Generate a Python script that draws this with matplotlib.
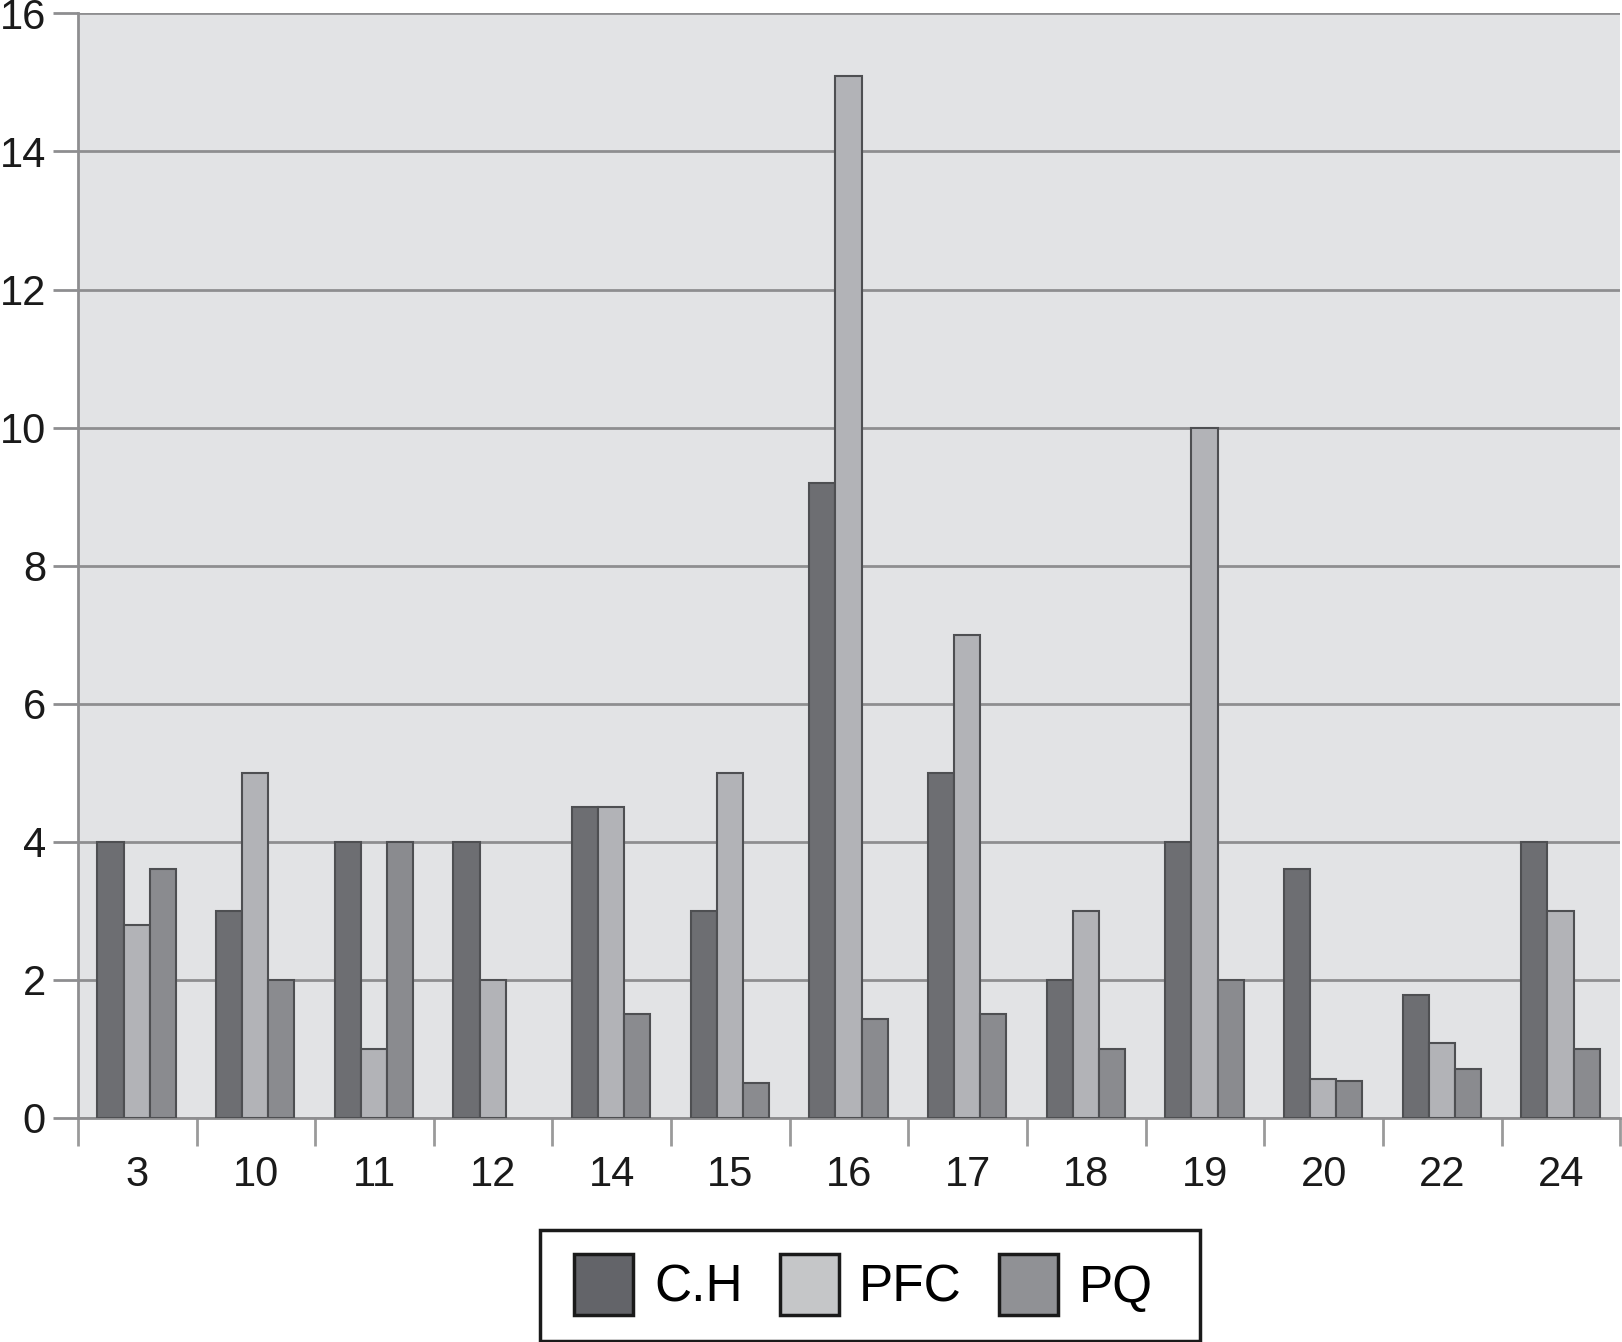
import numpy as np
import matplotlib
from matplotlib import pyplot as plt

categories = ['3', '10', '11', '12', '14', '15', '16', '17', '18', '19', '20', '22', '24']
ch = [4, 3, 4, 4, 4.5, 3, 9.2, 5, 2, 4, 3.6, 1.78, 4]
pfc = [2.8, 5, 1, 2, 4.5, 5, 15.1, 7, 3, 10, 0.56, 1.08, 3]
pq = [3.6, 2, 4, 0, 1.5, 0.5, 1.43, 1.5, 1, 2, 0.53, 0.71, 1]
series_names = ['C.H', 'PFC', 'PQ']

colors = ['#6d6e72', '#b2b3b7', '#8a8b8f']
legend_colors = ['#636469', '#c5c6c8', '#909195']

plt.rcParams['font.family'] = ['Liberation Sans', 'DejaVu Sans']

fig = plt.figure(figsize=(16.22, 13.42), dpi=100)
ax = fig.add_axes([0.048, 0.167, 0.951, 0.823])
ax.set_facecolor('#e2e3e5')

x = np.arange(len(categories))
w = 0.22
for i, (vals, c) in enumerate(zip([ch, pfc, pq], colors)):
    lw = [1.5 if v > 0 else 0 for v in vals]
    ax.bar(x + (i - 1) * w - 0.005, vals, w, color=c, edgecolor='#4e4f52', linewidth=lw,
           zorder=3)

ax.set_xlim(-0.5, len(categories) - 0.5)
ax.set_ylim(0, 16)
ax.set_yticks(np.arange(0, 17, 2))
ax.yaxis.grid(True, color='#8e8e90', linewidth=2)
ax.set_axisbelow(True)

ax.set_xticks(x)
ax.set_xticklabels(categories)
ax.set_xticks(np.arange(-0.5, len(categories)), minor=True)
ax.tick_params(axis='x', which='major', length=0, pad=27, labelsize=30, colors='#1a1a1a')
ax.tick_params(axis='x', which='minor', length=20, width=2, color='#9a9a9a')
ax.tick_params(axis='y', length=18, width=2, color='#8e8e90', pad=5, labelsize=30,
               labelcolor='#1a1a1a')

for s in ['top', 'right']:
    ax.spines[s].set_visible(False)
for s in ['left', 'bottom']:
    ax.spines[s].set_color('#8e8e90')
    ax.spines[s].set_linewidth(2)

handles = [matplotlib.patches.Patch(facecolor=c, edgecolor='#1a1a1a', linewidth=2.5)
           for c in legend_colors]
leg = fig.legend(handles, series_names, loc='lower center', bbox_to_anchor=(0.5324, 0.002),
                 ncol=3, frameon=False, prop={'size': 37}, borderaxespad=0,
                 handlelength=1.15, handleheight=1.45, handletextpad=0.4,
                 columnspacing=0.72, borderpad=0.3)

# put the legend squares ~27px above the bottom edge, then draw the frame by hand
fig.canvas.draw()
h0 = leg.legend_handles[0].get_window_extent()
dy = 27 - h0.y0
leg.set_bbox_to_anchor((0.5324, 0.002 + dy / fig.bbox.height), transform=fig.transFigure)
fig.canvas.draw()
h0 = leg.legend_handles[0].get_window_extent()
t2 = leg.get_texts()[-1].get_window_extent()
fx0, fx1 = h0.x0 - 34, t2.x1 + 47
fy0, fy1 = h0.y0 - 26, h0.y1 + 24
frame = matplotlib.patches.Rectangle((fx0, fy0), fx1 - fx0, fy1 - fy0,
                                     transform=None, fill=False, lw=2.5, ec='#1a1a1a')
fig.add_artist(frame)

fig.savefig('out.png', dpi=100)
